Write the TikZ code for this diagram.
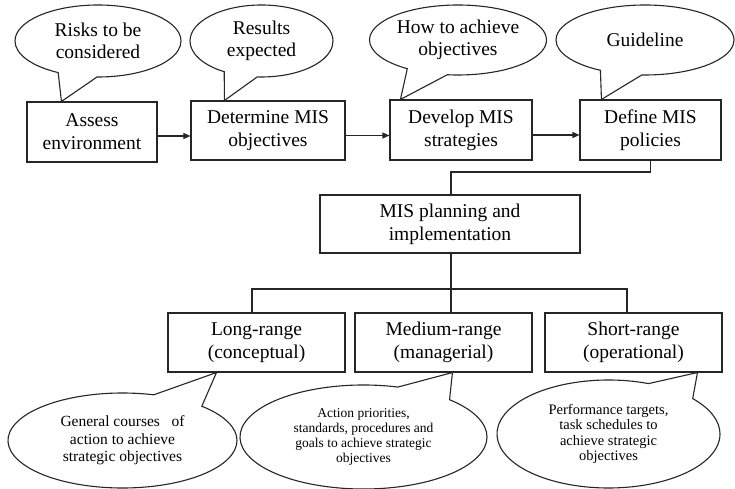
\documentclass[tikz,border=0pt]{standalone}
\usepackage{fontspec}
\setmainfont{Liberation Serif}
\usetikzlibrary{shapes.callouts,arrows.meta}
\begin{document}
\begin{tikzpicture}[x=1pt,y=-1pt,
  line/.style={draw=black!85, line width=1.1pt},
  box/.style={line, fill=white, align=center, inner sep=2pt, text=black,
    font=\fontsize{19.5}{23}\selectfont},
  callT/.style={ellipse callout, line, fill=white, align=center, inner sep=0pt,
    callout pointer arc=28, text=black, font=\fontsize{19.5}{22}\selectfont},
  callB/.style={ellipse callout, line, fill=white, align=center, inner sep=0pt,
    callout pointer arc=28, text=black},
  arr/.style={line, -{Triangle[length=7pt,width=6pt]}}
]
\fill[white] (0,0) rectangle (735,489);
\useasboundingbox (0,0) rectangle (735,489);

% top row
\node[box, minimum width=130, minimum height=60] (a1) at (92,132) {Assess\\environment};
\node[box, minimum width=154, minimum height=59] (a2) at (268,130.5) {Determine MIS\\objectives};
\node[box, minimum width=142, minimum height=60] (a3) at (461,130) {Develop MIS\\strategies};
\node[box, minimum width=141, minimum height=60] (a4) at (650.5,130) {Define MIS\\policies};

\draw[arr] ([yshift=-4pt]a1.east) -- ([yshift=-4pt]a1.east -| a2.west);
\draw[arr] ([yshift=-5pt]a2.east) -- ([yshift=-5pt]a2.east -| a3.west);
\draw[arr] ([yshift=-5pt]a3.east) -- ([yshift=-5pt]a3.east -| a4.west);

% middle
\node[box, minimum width=260, minimum height=58] (m) at (450,224) {MIS planning and\\implementation};
\draw[line] (a4.south) |- ([xshift=1pt]m.north |- 0,172) -- ([xshift=1pt]m.north);

% bottom row
\node[box, minimum width=177, minimum height=59] (b1) at (256.5,342.5) {Long-range\\(conceptual)};
\node[box, minimum width=177, minimum height=59] (b2) at (443.5,342.5) {Medium-range\\(managerial)};
\node[box, minimum width=177, minimum height=59] (b3) at (633.5,342.5) {Short-range\\(operational)};

\coordinate (busL) at ([xshift=-4.5pt]b1.north |- 0,289);
\coordinate (busR) at ([xshift=-6.5pt]b3.north |- 0,289);
\draw[line] ([xshift=1pt]m.south) -- ([xshift=1pt]m.south |- b2.north);
\draw[line] ([xshift=-4.5pt]b1.north) -- (busL) -- (busR) -- ([xshift=-6.5pt]b3.north);

% top callouts
\node[callT, minimum width=166, minimum height=72,
  callout absolute pointer={([xshift=35pt]a1.north west)}] (c1) at (98,41) {Risks to be\\considered};
\node[callT, minimum width=143, minimum height=72,
  callout absolute pointer={([xshift=34pt]a2.north west)}] (c2) at (261.5,41) {Results\\expected};
\node[callT, minimum width=177, minimum height=70,
  callout absolute pointer={([xshift=11pt]a3.north west)}] (c3) at (458,40) {How to achieve\\objectives};
\node[callT, minimum width=178, minimum height=70,
  callout absolute pointer={([xshift=22pt]a4.north west)}] (c4) at (645,40) {Guideline};

% bottom callouts
\node[callB, minimum width=229, minimum height=95, font=\fontsize{15.5}{17.5}\selectfont,
  callout absolute pointer={([xshift=49pt]b1.south west)}] (d1) at (122.5,440.5)
  {General courses\ \ \ of\\action to achieve\\strategic objectives};
\node[callB, minimum width=247, minimum height=104, font=\fontsize{13.5}{15}\selectfont,
  callout absolute pointer={([xshift=98pt]b2.south west)}] (d2) at (363.5,437)
  {Action priorities,\\standards, procedures and\\goals to achieve strategic\\objectives};
\node[callB, minimum width=223, minimum height=108, font=\fontsize{14.5}{15.5}\selectfont,
  callout absolute pointer={([xshift=153pt]b3.south west)}] (d3) at (608.5,434)
  {Performance targets,\\task schedules to\\achieve strategic\\objectives};
\end{tikzpicture}
\end{document}
